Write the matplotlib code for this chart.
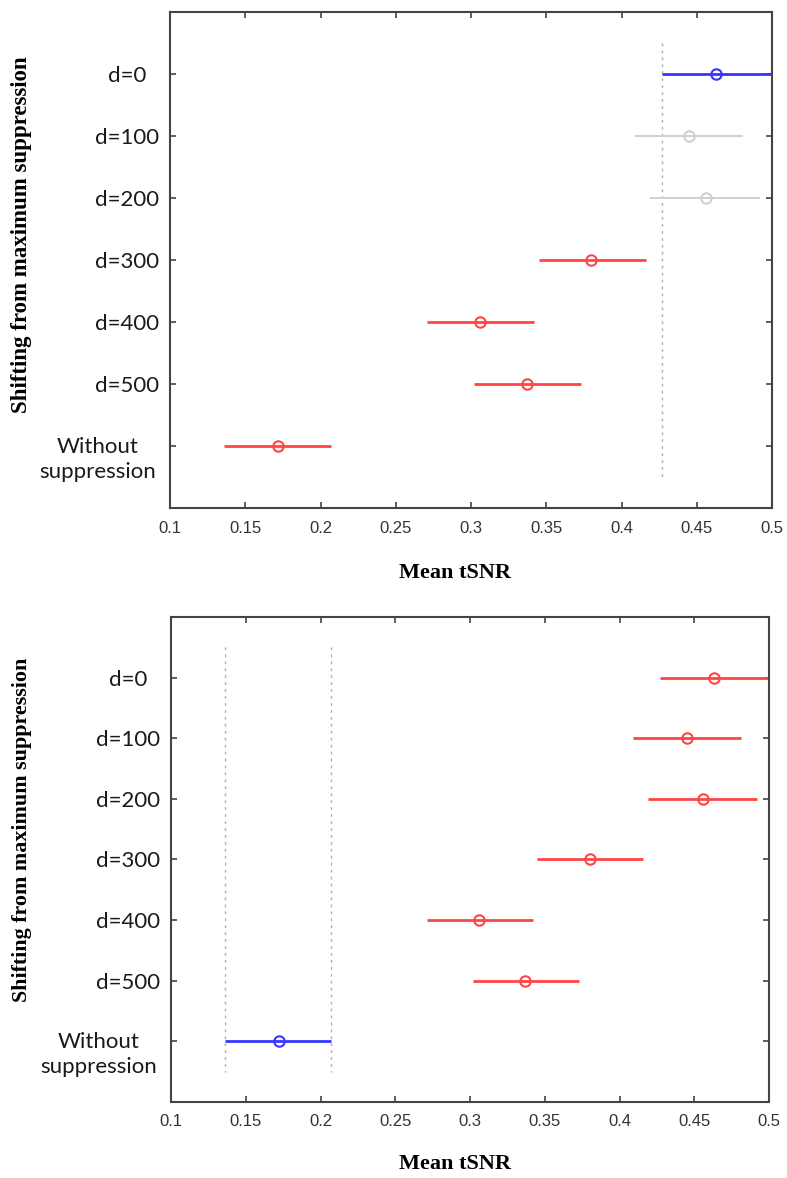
import matplotlib
matplotlib.use("Agg")
import matplotlib.pyplot as plt
import matplotlib.transforms as mtransforms
import numpy as np

groups = ['d=0', 'd=100', 'd=200', 'd=300', 'd=400', 'd=500', 'Without\nsuppression']
means = [0.463, 0.445, 0.456, 0.380, 0.306, 0.337, 0.172]
lower = [0.427, 0.409, 0.419, 0.345, 0.271, 0.302, 0.136]
upper = [0.500, 0.481, 0.492, 0.416, 0.342, 0.373, 0.207]
xticks = [0.1, 0.15, 0.2, 0.25, 0.3, 0.35, 0.4, 0.45, 0.5]
xticklabels = ['0.1', '0.15', '0.2', '0.25', '0.3', '0.35', '0.4', '0.45', '0.5']
selected = [0, 6]  # selected group in top / bottom panel
roles_top = ['sel', 'ns', 'ns', 'sig', 'sig', 'sig', 'sig']
roles_bottom = ['sig', 'sig', 'sig', 'sig', 'sig', 'sig', 'sel']

colors = {'sel': '#3535ff', 'ns': '#d0d0d0', 'sig': '#ff4545'}
lws = {'sel': 2.0, 'ns': 1.4, 'sig': 2.0}

W, H = 787, 1178
DPI = 100
fig = plt.figure(figsize=(W / DPI, H / DPI), dpi=DPI)

axes_px = [(170, 12, 772, 508), (171, 617, 769, 1102)]
xlabel_y = [573, 1164]
ylabel_center = [235, 830]
ylabel_size = [16.5, 15.8]

def panel(ax, roles, sel, ysize):
    y = np.arange(1, len(groups) + 1)
    for xv in (lower[sel], upper[sel]):
        ax.plot([xv, xv], [0.5, len(groups) + 0.5], ls=(0, (2, 3)), color='#b0b0b0', lw=1.0, zorder=1)
    for i, r in enumerate(roles):
        c = colors[r]
        ax.plot([lower[i], upper[i]], [y[i], y[i]], color=c, lw=lws[r], solid_capstyle='butt', zorder=2)
        ax.plot(means[i], y[i], marker='o', ms=7.5, mfc='none', mec=c, mew=1.5, zorder=3)
    ax.set_xlim(0.1, 0.5)
    ax.set_ylim(len(groups) + 1, 0)
    ax.set_yticks(y)
    ax.set_xticks(xticks)
    ax.set_xticklabels(xticklabels, fontsize=12, family='Liberation Sans', color='#333333')
    ax.tick_params(axis='both', direction='in', length=4, width=1.2, color='#444444',
                   top=True, right=True)
    ax.tick_params(axis='y', pad=31)
    ax.tick_params(axis='x', pad=9)
    ax.set_yticklabels(groups, fontsize=16, family='Lato', color='#1a1a1a',
                       linespacing=1.3, ha='center', multialignment='center')
    for s in ax.spines.values():
        s.set_color('#444444')
        s.set_linewidth(1.5)
    ax.set_ylabel('Shifting from maximum suppression', family='Liberation Serif',
                  fontweight='bold', fontsize=ysize)
    # the two-line label sits further left and slightly lower in the original
    last = ax.get_yticklabels()[-1]
    off = mtransforms.ScaledTranslation(-29 / DPI, -9 / DPI, fig.dpi_scale_trans)
    last.set_transform(last.get_transform() + off)

for k, (l, t, r, b) in enumerate(axes_px):
    ax = fig.add_axes([l / W, 1 - b / H, (r - l) / W, (b - t) / H])
    panel(ax, roles_top if k == 0 else roles_bottom, selected[k], ylabel_size[k])
    ax.yaxis.set_label_coords(-(l - 32) / (r - l), (b - ylabel_center[k]) / (b - t))
    fig.text(455 / W, 1 - xlabel_y[k] / H, 'Mean tSNR', family='Liberation Serif',
             fontweight='bold', fontsize=16, ha='center', va='center')

fig.savefig('out.png', dpi=DPI, facecolor='white')
